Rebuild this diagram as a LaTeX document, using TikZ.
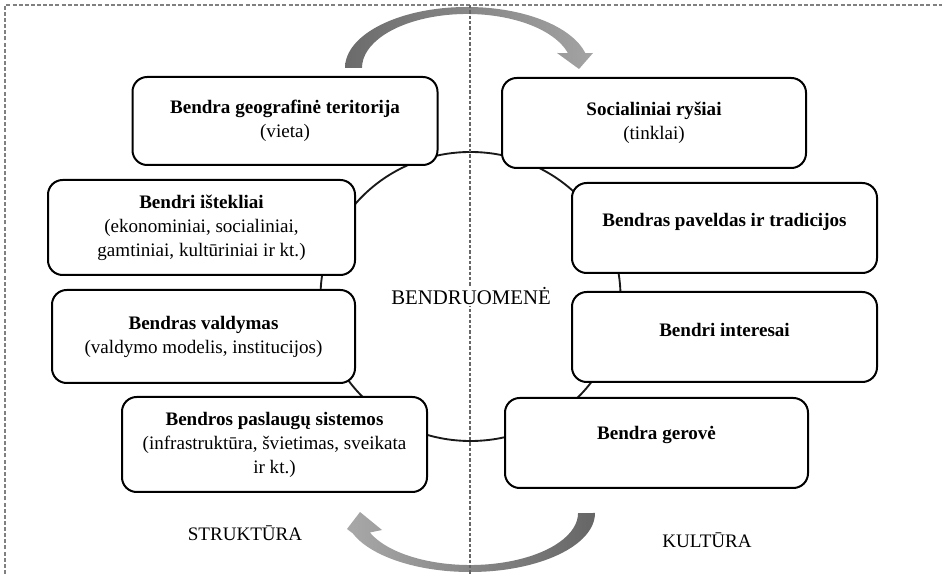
\documentclass[tikz,border=0pt]{standalone}
\usepackage{fontspec}
\setmainfont{Liberation Serif}
\begin{document}
\begin{tikzpicture}[x=0.75pt,y=0.75pt,
  font=\fontsize{14.3pt}{18pt}\selectfont,
  frame/.style={draw=black!50, line width=1.1pt, dash pattern=on 3pt off 1.6pt},
  midline/.style={draw=black!60, line width=0.8pt, dash pattern=on 2.4pt off 1.6pt},
  ring/.style={draw=black!90, line width=1.4pt},
  box/.style={draw=black, line width=1.5pt, rounded corners=11pt, fill=white,
    align=center, minimum width=228.75pt, minimum height=67.5pt, inner sep=4pt},
  oneline/.style={text height=10pt, text depth=#1},
  caption/.style={inner sep=0pt}]
\useasboundingbox (0,0) rectangle (942,574);

% dashed frame (top and left sides)
\draw[frame] (5,0) -- (5,569) -- (942,569);

% the community ring behind the boxes
\draw[ring] (470.5,277.5) ellipse [x radius=150, y radius=144.5];

% structure side (left)
\node[box, minimum height=66pt] (geo) at (285,453)
  {\textbf{Bendra geografinė teritorija}\\(vieta)};
\node[box, minimum width=230.25pt, minimum height=71.25pt] (ist) at (201.5,346.5)
  {\textbf{Bendri ištekliai}\\(ekonominiai, socialiniai,\\gamtiniai, kultūriniai ir kt.)};
\node[box, minimum width=227.25pt, minimum height=69.75pt] (val) at (203.5,237.5)
  {\textbf{Bendras valdymas}\\(valdymo modelis, institucijos)};
\node[box, minimum height=71.25pt] (pasl) at (274.5,129.5)
  {\textbf{Bendros paslaugų sistemos}\\(infrastruktūra, švietimas, sveikata\\ir kt.)};

% culture side (right)
\node[box, minimum width=228pt] (soc) at (654,451)
  {\textbf{Socialiniai ryšiai}\\(tinklai)};
\node[box, oneline=12pt] (pav) at (724.5,346)
  {\textbf{Bendras paveldas ir tradicijos}};
\node[box, oneline=11pt] (int) at (724.5,237)
  {\textbf{Bendri interesai}};
\node[box, minimum width=227.25pt, oneline=15pt] (ger) at (656.5,131)
  {\textbf{Bendra gerovė}};

% curved block arrows
\shade[left color=black!58, right color=black!36]
  (345,506) arc[start angle=180, end angle=14, x radius=122, y radius=61]
  -- (593,521) -- (579,505) -- (557,521)
  -- (567.9,520.9) arc[start angle=16, end angle=180, x radius=105, y radius=54]
  -- cycle;
\shade[left color=black!34, right color=black!60]
  (595,61) arc[start angle=0, end angle=-160, x radius=125, y radius=59]
  -- (347,45) -- (360,62) -- (382,44)
  -- (369.9,41.5) arc[start angle=-158, end angle=0, x radius=108, y radius=52]
  -- cycle;

% dividing line between structure and culture
\draw[midline] (470,569) -- (470,0);

% captions
\node[caption, fill=white, inner sep=1pt, font=\fontsize{15.6pt}{18pt}\selectfont]
  (comm) at (471,278) {BENDRUOMENĖ};
\node[caption] (str) at (245,41) {STRUKTŪRA};
\node[caption] (kult) at (707,34) {KULTŪRA};
\end{tikzpicture}
\end{document}
